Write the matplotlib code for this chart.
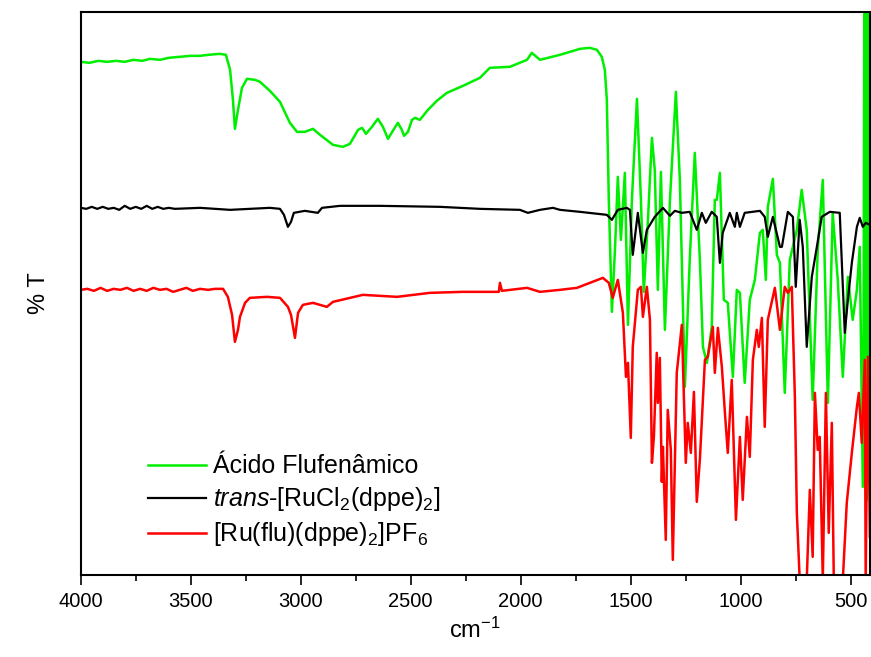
import numpy as np
import matplotlib
matplotlib.use("Agg")
import matplotlib.pyplot as plt
from matplotlib.ticker import MultipleLocator

plt.rcParams['font.family'] = ['Liberation Sans', 'DejaVu Sans']
plt.rcParams['mathtext.fontset'] = 'custom'
plt.rcParams['mathtext.rm'] = 'Liberation Sans'
plt.rcParams['mathtext.it'] = 'Liberation Sans:italic'

# Ácido Flufenâmico (número de onda em cm-1, %T em unidades arbitrárias)
wn_acido = [4000, 3960, 3920, 3880, 3840, 3800, 3760, 3720, 3685, 3640, 3600, 3549,
            3500, 3458, 3420, 3367, 3340, 3321, 3308, 3299, 3285,
            3267, 3244, 3208, 3185, 3140, 3094, 3049, 3017, 2981, 2944, 2912, 2853,
            2808, 2776, 2739, 2721, 2703, 2676, 2649, 2626, 2603, 2581, 2558, 2540,
            2530, 2512, 2494, 2480, 2458, 2421, 2381, 2335, 2262, 2185, 2140, 2049,
            1971, 1949, 1912, 1821, 1730, 1685, 1653, 1631, 1617, 1608, 1599, 1585,
            1571, 1558, 1544, 1526, 1512, 1494, 1471, 1453, 1440, 1421, 1403, 1390,
            1376, 1362, 1344, 1321, 1294, 1276, 1253, 1231, 1208, 1185, 1171, 1153,
            1131, 1117, 1108, 1094, 1076, 1058, 1035, 1017, 1003, 981, 958, 935,
            912, 899, 885, 876, 853, 835, 821, 799, 776, 762, 744, 722,
            699, 672, 649, 626, 603, 581, 558, 535, 512, 490, 471, 458,
            444, 440, 437, 435, 433, 431, 428, 426, 423, 421, 417, 414, 412]
t_acido = [513, 512, 514, 513, 514, 513, 515, 514, 516, 515, 517, 518,
           519, 519, 520, 521, 520, 505, 475, 446, 465,
           487, 496, 495, 493, 484, 473, 452, 443, 443, 446, 440, 430,
           428, 431, 445, 447, 441, 448, 456, 448, 436, 444, 452, 445,
           439, 443, 455, 457, 455, 465, 474, 482, 489, 497, 507, 508,
           515, 522, 515, 520, 526, 527, 525, 518, 505, 475, 375, 263,
           325, 398, 335, 402, 250, 375, 476, 375, 283, 355, 437, 405,
           285, 403, 245, 375, 483, 395, 188, 315, 422, 315, 228, 212,
           248, 375, 375, 402, 275, 272, 198, 285, 282, 192, 275, 295,
           342, 345, 295, 368, 396, 320, 312, 182, 315, 328, 345, 385,
           345, 175, 325, 395, 172, 362, 295, 198, 298, 255, 285, 328,
           88, 300, 625, 100, 625, 90, 625, 75, 625, 200, 625, 100, 625]

# trans-[RuCl2(dppe)2]
wn_rucl = [4000, 3975, 3950, 3925, 3900, 3875, 3850, 3825, 3800, 3775, 3750, 3725,
           3700, 3675, 3650, 3625, 3600, 3572, 3458, 3321, 3140, 3094, 3076, 3058,
           3044, 3031, 2981, 2922, 2903, 2821, 2639, 2367, 2185, 2003, 1967, 1912,
           1853, 1821, 1730, 1608, 1585, 1558, 1517, 1503, 1490, 1467, 1444, 1426,
           1390, 1353, 1321, 1299, 1267, 1231, 1199, 1176, 1158, 1131, 1108, 1094,
           1081, 1049, 1026, 1017, 1003, 981, 912, 890, 876, 853, 821, 812,
           785, 762, 749, 731, 717, 699, 676, 653, 631, 594, 549, 526,
           512, 494, 471, 458, 444, 431, 412]
t_rucl = [367, 366, 368, 366, 368, 366, 367, 365, 369, 366, 368, 366,
          369, 366, 368, 366, 367, 366, 367, 365, 367, 366, 360, 348,
          353, 362, 364, 362, 367, 369, 369, 368, 366, 365, 362, 365,
          367, 365, 363, 360, 355, 365, 367, 365, 320, 362, 322, 345,
          358, 367, 359, 364, 362, 363, 345, 362, 352, 363, 358, 312,
          342, 362, 348, 362, 348, 362, 364, 358, 338, 358, 328, 328,
          363, 358, 288, 355, 328, 228, 298, 328, 358, 363, 362, 242,
          275, 312, 348, 357, 348, 352, 350]

# [Ru(flu)(dppe)2]PF6
wn_ruflu = [4000, 3970, 3940, 3910, 3880, 3850, 3820, 3790, 3760, 3730, 3700, 3670,
            3640, 3610, 3580, 3550, 3520, 3490, 3458, 3420, 3390, 3353, 3331, 3312,
            3299, 3285, 3276, 3253, 3231, 3153, 3094, 3058, 3044, 3026, 3012, 2990,
            2944, 2912, 2881, 2853, 2717, 2562, 2412, 2262, 2099, 2094, 2085, 1971,
            1912, 1821, 1744, 1626, 1599, 1581, 1558, 1535, 1521, 1512, 1499, 1490,
            1467, 1453, 1444, 1426, 1412, 1403, 1394, 1381, 1376, 1367, 1358, 1353,
            1340, 1331, 1317, 1308, 1290, 1267, 1249, 1240, 1226, 1212, 1199, 1185,
            1162, 1149, 1126, 1117, 1103, 1085, 1071, 1058, 1040, 1021, 1003, 990,
            971, 958, 944, 926, 917, 903, 890, 876, 844, 821, 799, 785,
            767, 753, 744, 731, 699, 685, 672, 662, 649, 640, 626, 612,
            599, 585, 576, 535, 517, 494, 471, 462, 449, 435, 431, 421, 412]
t_ruflu = [285, 286, 284, 287, 284, 286, 285, 287, 284, 286, 284, 287,
           285, 286, 283, 285, 287, 284, 286, 285, 286, 286, 278, 260,
           233, 245, 258, 272, 277, 278, 277, 268, 260, 237, 262, 270,
           272, 270, 268, 273, 280, 278, 282, 283, 283, 292, 284, 287,
           283, 285, 287, 297, 292, 277, 295, 262, 198, 212, 137, 228,
           285, 288, 258, 288, 255, 112, 138, 222, 172, 217, 93, 128,
           35, 165, 125, 15, 202, 250, 112, 152, 122, 183, 73, 115,
           215, 218, 248, 202, 247, 208, 162, 122, 195, 55, 138, 75,
           158, 118, 215, 245, 228, 257, 148, 255, 287, 245, 288, 282,
           288, 178, 62, -5, -5, 85, 18, 182, 125, 138, -5, 182,
           42, 152, -5, -5, 72, 122, 168, 182, 132, 215, -5, 218, 38]

rotulos = ['Ácido Flufenâmico',
           r'$\it{trans}$-[RuCl$_2$(dppe)$_2$]',
           r'[Ru(flu)(dppe)$_2$]PF$_6$']
cores = ['#00ee00', 'black', 'red']

fig = plt.figure(figsize=(8.71, 6.57), dpi=100)
ax = fig.add_axes([0.0927, 0.125, 0.906, 0.857])

ax.plot(wn_acido, t_acido, color=cores[0], lw=1.8, label=rotulos[0])
ax.plot(wn_rucl, t_rucl, color=cores[1], lw=1.6, label=rotulos[1])
ax.plot(wn_ruflu, t_ruflu, color=cores[2], lw=1.8, label=rotulos[2])

ax.set_xlim(4000, 412)
ax.set_ylim(0, 563)
ax.set_yticks([])
ax.xaxis.set_major_locator(MultipleLocator(500))
ax.xaxis.set_minor_locator(MultipleLocator(250))
ax.tick_params(axis='x', which='major', length=7, width=1.2, labelsize=14.5,
               direction='out', pad=5)
ax.tick_params(axis='x', which='minor', length=4, width=1.2, direction='out')
for s in ax.spines.values():
    s.set_linewidth(1.5)

ax.set_xlabel('cm$^{-1}$', fontsize=17, labelpad=5)
ax.set_ylabel('% T', fontsize=17, labelpad=22)

ax.legend(loc='upper left', bbox_to_anchor=(0.07, 0.236), frameon=False,
          fontsize=18, handlelength=2.3, handletextpad=0.3, labelspacing=0.28,
          borderpad=0)

fig.savefig('out.png', dpi=100)
